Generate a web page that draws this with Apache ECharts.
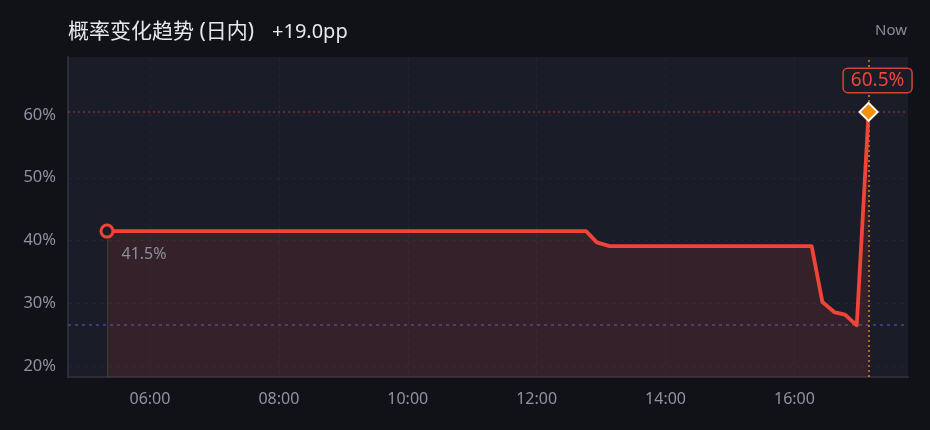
<!DOCTYPE html>
<html><head><meta charset="utf-8">
<script src="https://cdn.jsdelivr.net/npm/echarts@6/dist/echarts.min.js"></script>
<style>html,body{margin:0;padding:0;background:#111217;}#c{width:930px;height:430px;}</style>
</head><body><div id="c"></div>
<script>
// ---- data ----
const times  = ['05:20','12:46','12:56','13:08','16:16','16:26','16:37','16:47','16:58','17:09'];
const values = [41.5, 41.5, 39.7, 39.1, 39.1, 30.2, 28.6, 28.2, 26.5, 60.5];
const xTickLabels = ['06:00','08:00','10:00','12:00','14:00','16:00'];
const yTickLabels = ['20%','30%','40%','50%','60%'];
const xRange = ['04:43.7','17:45.7'];
const yRange = [18.25, 69.25];
const titleText = '概率变化趋势 (日内)';
const nowText = 'Now';

// ---- helpers ----
function toH(t){ const p=t.split(':'); return (+p[0]) + (+p[1])/60; }
function fmtH(v){ let h=Math.floor(v+1e-9), m=Math.round((v-h)*60); if(m===60){h++;m=0;} return String(h).padStart(2,'0')+':'+String(m).padStart(2,'0'); }
const FONT = '"Noto Sans","Noto Sans CJK SC",sans-serif';
const xs = times.map(toH);
const n = values.length;
const first = values[0], last = values[n-1];
const delta = last - first;
const deltaText = (delta>=0?'+':'') + delta.toFixed(1) + 'pp';
const minV = Math.min(...values), maxV = Math.max(...values);

const seriesData = xs.map((x,i)=>{
  const item = {value:[x, values[i]]};
  if (i===0) {
    item.symbol='circle'; item.symbolSize=12;
    item.itemStyle={color:'#1a1c27', borderColor:'#f04438', borderWidth:3};
    item.label={show:true, position:[22,23], align:'left', verticalAlign:'top',
      formatter: p=>p.value[1].toFixed(1)+'%', color:'#8d8fa0', fontSize:16, fontFamily:FONT};
  } else if (i===n-1) {
    item.symbol='diamond'; item.symbolSize=18;
    item.itemStyle={color:'#f5900b', borderColor:'#ffffff', borderWidth:2};
    item.label={show:true, position:'top', distance:10, offset:[9,0],
      formatter: p=>p.value[1].toFixed(1)+'%', color:'#f04438', fontSize:19, fontFamily:FONT,
      backgroundColor:'#1a1c27', borderColor:'#d0443a', borderWidth:1.5, borderRadius:4, padding:[2,7]};
  }
  return item;
});

const chart = echarts.init(document.getElementById('c'), null, {renderer:'canvas'});
chart.setOption({
  backgroundColor:'#111217',
  animation:false,
  textStyle:{fontFamily:FONT},
  grid:{left:68, right:22, top:57, bottom:53, show:true, backgroundColor:'#1a1c27', borderWidth:0, containLabel:false},
  graphic:[
    {type:'text', left:68, top:22, style:{text:titleText, fill:'#e6e7ec', font:'21px '+FONT}},
    {type:'text', left:272, top:22, style:{text:deltaText, fill:'#e6e7ec', font:'20px '+FONT}},
    {type:'text', right:23, top:23, style:{text:nowText, fill:'#8a8c9c', font:'15px '+FONT}}
  ],
  xAxis:{
    type:'value', min:toH(xRange[0]), max:toH(xRange[1]), splitNumber:6,
    axisLine:{show:true, lineStyle:{color:'#2b2d3d', width:2}},
    axisTick:{show:false},
    axisLabel:{color:'#9092a3', fontSize:16, margin:14, fontFamily:FONT,
      customValues: xTickLabels.map(toH), formatter: v=>fmtH(v)},
    splitLine:{show:true, showMinLine:false, showMaxLine:false, lineStyle:{color:'#222435', type:[4,4], width:1}}
  },
  yAxis:{
    type:'value', min:yRange[0], max:yRange[1], splitNumber:5,
    axisLine:{show:true, lineStyle:{color:'#2b2d3d', width:2}},
    axisTick:{show:false},
    axisLabel:{color:'#9092a3', fontSize:16.5, margin:12, fontFamily:FONT,
      customValues: yTickLabels.map(s=>parseFloat(s)), formatter: v=>Math.round(v)+'%'},
    splitLine:{show:true, showMinLine:false, showMaxLine:false, lineStyle:{color:'#222435', type:[4,4], width:1}}
  },
  series:[{
    type:'line', data:seriesData, symbol:'none', showSymbol:true,
    lineStyle:{color:'#f04438', width:3.8, join:'round'},
    itemStyle:{color:'#f04438'},
    areaStyle:{color:'rgba(240,68,56,0.18)'},
    z:3,
    markLine:{
      symbol:'none', silent:true, label:{show:false}, animation:false, z:1,
      data:[
        {yAxis:maxV, lineStyle:{color:'rgba(200,62,56,0.55)', type:[2,3], width:1.5}},
        {yAxis:minV, lineStyle:{color:'#363e74', type:[3,4], width:2}},
        {xAxis:xs[n-1], lineStyle:{color:'#d9861c', type:[2,3], width:1.5}},
        [{coord:[xs[0], first], lineStyle:{color:'rgba(240,68,56,0.25)', type:'solid', width:1}},
         {coord:[xs[0], yRange[0]]}]
      ]
    }
  }]
});
</script></body></html>
